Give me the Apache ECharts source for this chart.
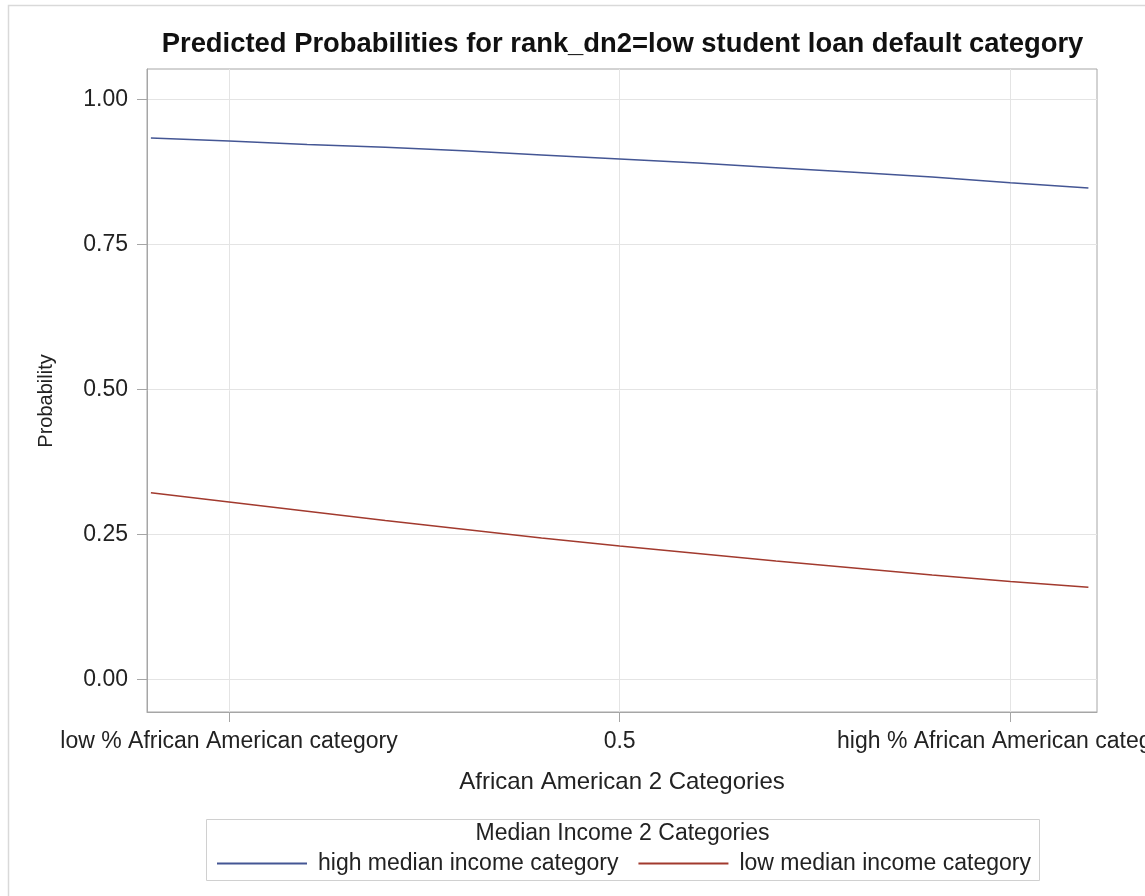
<!DOCTYPE html>
<html>
<head>
<meta charset="utf-8">
<title>Predicted Probabilities</title>
<script src="https://cdn.jsdelivr.net/npm/echarts@6/dist/echarts.min.js"></script>
<style>
  html, body { margin: 0; padding: 0; background: #fff; }
  #chart { width: 1145px; height: 896px; }
</style>
</head>
<body>
<div id="chart"></div>
<script>
// Predictor values (African American category, 0 = low, 1 = high)
const xValues = [-0.1, 0, 0.1, 0.2, 0.3, 0.4, 0.5, 0.6, 0.7, 0.8, 0.9, 1.0, 1.1];

// Predicted probabilities per median income group
const highIncome = [0.933, 0.928, 0.922, 0.917, 0.911, 0.904, 0.897, 0.890, 0.882, 0.874, 0.866, 0.856, 0.847];
const lowIncome  = [0.322, 0.306, 0.290, 0.274, 0.259, 0.244, 0.230, 0.217, 0.204, 0.192, 0.180, 0.169, 0.159];

const seriesNames = ['high median income category', 'low median income category'];

// Axis ticks and labels
const xTickValues = [0, 0.5, 1];
const xTickLabels = ['low % African American category', '0.5', 'high % African American category'];
const yTickValues = [0, 0.25, 0.5, 0.75, 1];
const yTickLabels = ['0.00', '0.25', '0.50', '0.75', '1.00'];

const FONT = "'Liberation Sans', Arial, sans-serif";
const AXIS_GRAY = '#A6A6A6';
const GRID_GRAY = '#E4E4E4';

const chart = echarts.init(document.getElementById('chart'), null, { renderer: 'canvas' });

function pairs(xs, ys) {
  return xs.map((x, i) => [x, ys[i]]);
}

const option = {
  backgroundColor: '#fff',
  animation: false,
  textStyle: { fontFamily: FONT },
  title: {
    text: 'Predicted Probabilities for rank_dn2=low student loan default category',
    left: 617.5,
    top: 26,
    textAlign: 'center',
    textStyle: { fontFamily: FONT, fontSize: 27.4, fontWeight: 'bold', color: '#111' }
  },
  grid: {
    left: 147, top: 69, right: 48, bottom: 184,
    show: true, borderColor: AXIS_GRAY, borderWidth: 1,
    containLabel: false,
    outerBoundsMode: 'none'
  },
  xAxis: {
    type: 'value',
    min: -0.105,
    max: 1.111,
    name: 'African American 2 Categories',
    nameLocation: 'middle',
    nameGap: 58,
    nameTextStyle: { fontFamily: FONT, fontSize: 24, color: '#222' },
    axisLine: { show: true, onZero: false, lineStyle: { color: AXIS_GRAY, width: 1 } },
    axisTick: { show: true, length: 10, lineStyle: { color: AXIS_GRAY }, customValues: xTickValues },
    axisLabel: {
      customValues: xTickValues,
      margin: 18,
      fontFamily: FONT, fontSize: 23, color: '#222',
      formatter: v => {
        const i = xTickValues.findIndex(t => Math.abs(t - v) < 1e-9);
        return i >= 0 ? xTickLabels[i] : '';
      }
    },
    splitLine: { show: true, lineStyle: { color: GRID_GRAY, width: 1 } }
  },
  yAxis: {
    type: 'value',
    min: -0.056,
    max: 1.052,
    axisLine: { show: true, onZero: false, lineStyle: { color: AXIS_GRAY, width: 1 } },
    axisTick: { show: true, length: 10, lineStyle: { color: AXIS_GRAY }, customValues: yTickValues },
    axisLabel: {
      customValues: yTickValues,
      margin: 19,
      fontFamily: FONT, fontSize: 23, color: '#222',
      formatter: v => {
        const i = yTickValues.findIndex(t => Math.abs(t - v) < 1e-9);
        return i >= 0 ? yTickLabels[i] : '';
      }
    },
    splitLine: { show: true, lineStyle: { color: GRID_GRAY, width: 1 } }
  },
  legend: {
    left: 217,
    top: 852,
    padding: 0,
    itemWidth: 90,
    itemHeight: 2,
    itemGap: 20,
    icon: 'rect',
    data: seriesNames,
    textStyle: { fontFamily: FONT, fontSize: 23, color: '#222', padding: [0, 0, 0, 6] }
  },
  series: [
    {
      name: seriesNames[0],
      type: 'line',
      data: pairs(xValues, highIncome),
      symbol: 'none',
      smooth: false,
      color: '#445694',
      lineStyle: { color: '#445694', width: 1.5 }
    },
    {
      name: seriesNames[1],
      type: 'line',
      data: pairs(xValues, lowIncome),
      symbol: 'none',
      smooth: false,
      color: '#A23A2E',
      lineStyle: { color: '#A23A2E', width: 1.5 }
    }
  ],
  graphic: [
    // outer frame of the graph
    { type: 'rect', silent: true, z: -10,
      shape: { x: 8.5, y: 5.5, width: 2000, height: 2000 },
      style: { fill: 'none', stroke: '#D9D9D9', lineWidth: 1.5 } },
    // y axis title
    { type: 'text', silent: true,
      x: 46, y: 401, rotation: Math.PI / 2,
      style: { text: 'Probability', font: "20px 'Liberation Sans', Arial, sans-serif",
               fill: '#222', align: 'center', verticalAlign: 'middle' } },
    // legend frame and its title
    { type: 'rect', silent: true,
      shape: { x: 206.5, y: 819.5, width: 833, height: 61 },
      style: { fill: 'none', stroke: '#D0D0D0', lineWidth: 1 } },
    { type: 'text', silent: true,
      x: 622.5, y: 834,
      style: { text: 'Median Income 2 Categories', font: "23px 'Liberation Sans', Arial, sans-serif",
               fill: '#222', align: 'center', verticalAlign: 'middle' } }
  ]
};

chart.setOption(option);
</script>
</body>
</html>
